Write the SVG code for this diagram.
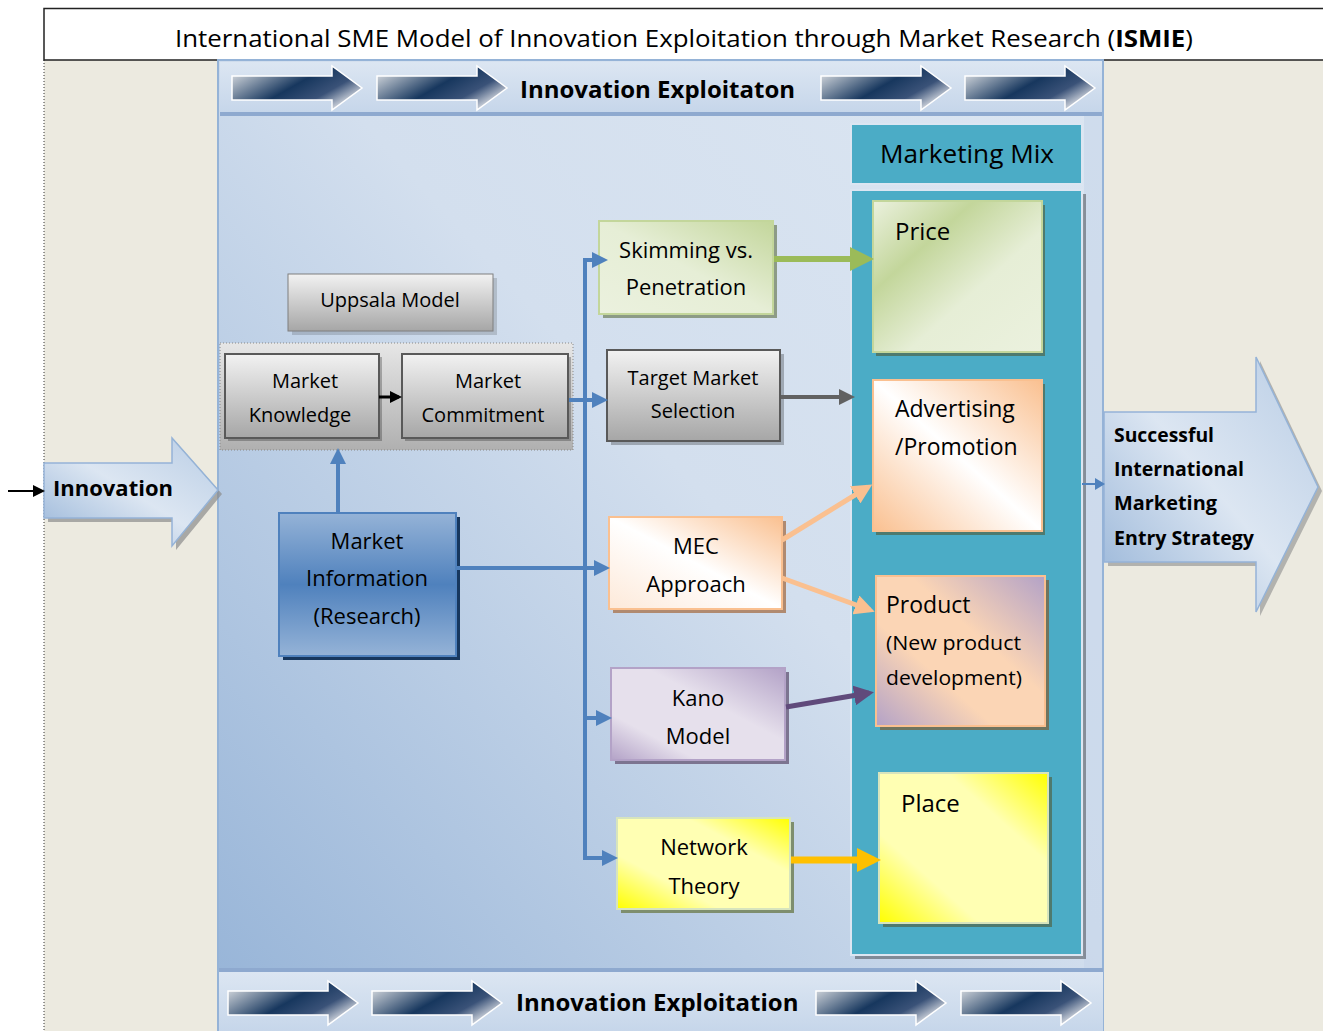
<svg xmlns="http://www.w3.org/2000/svg" width="1323" height="1031" viewBox="0 0 1323 1031">
<defs>
<linearGradient id="gPanel" x1="0" y1="1" x2="1" y2="0">
<stop offset="0" stop-color="#95B3D7"/><stop offset="0.55" stop-color="#D3DFEE"/><stop offset="1" stop-color="#DCE6F2"/>
</linearGradient>
<linearGradient id="gBand" x1="0" y1="0" x2="0" y2="1">
<stop offset="0" stop-color="#DCE6F2"/><stop offset="1" stop-color="#C6D6EA"/>
</linearGradient>
<linearGradient id="gDark" x1="0" y1="0" x2="1" y2="0.6">
<stop offset="0" stop-color="#F2F2F2"/><stop offset="0.55" stop-color="#17375E"/><stop offset="0.8" stop-color="#3A5278"/><stop offset="1" stop-color="#C8CED8"/>
</linearGradient>
<linearGradient id="gBlueArrow" x1="0" y1="1" x2="1" y2="0">
<stop offset="0" stop-color="#95B3D7"/><stop offset="0.5" stop-color="#DCE6F2"/><stop offset="1" stop-color="#B9CDE5"/>
</linearGradient>
<linearGradient id="gGrey" x1="0" y1="0" x2="0" y2="1">
<stop offset="0" stop-color="#F2F2F2"/><stop offset="1" stop-color="#A6A6A6"/>
</linearGradient>
<linearGradient id="gGreyBox" x1="0" y1="0" x2="0" y2="1">
<stop offset="0" stop-color="#E6E6E6"/><stop offset="1" stop-color="#B0B0B0"/>
</linearGradient>
<linearGradient id="gMI" x1="0" y1="0" x2="0" y2="1">
<stop offset="0" stop-color="#95B3D7"/><stop offset="0.5" stop-color="#4F81BD"/><stop offset="1" stop-color="#95B3D7"/>
</linearGradient>
<linearGradient id="gGreen" x1="1" y1="0" x2="0" y2="1">
<stop offset="0" stop-color="#C3D69B"/><stop offset="0.5" stop-color="#E6EED6"/><stop offset="1" stop-color="#EBF1DE"/>
</linearGradient>
<linearGradient id="gGreenBig" x1="0" y1="0" x2="1" y2="1">
<stop offset="0" stop-color="#EBF1DE"/><stop offset="0.3" stop-color="#C3D69B"/><stop offset="0.6" stop-color="#E6EED6"/><stop offset="1" stop-color="#EBF1DE"/>
</linearGradient>
<linearGradient id="gPeach" x1="1" y1="0" x2="0" y2="1">
<stop offset="0" stop-color="#FAC090"/><stop offset="0.5" stop-color="#FFFFFF"/><stop offset="1" stop-color="#FDE9D9"/>
</linearGradient>
<linearGradient id="gPeach2" x1="0" y1="1" x2="1" y2="0">
<stop offset="0" stop-color="#FAC090"/><stop offset="0.5" stop-color="#FFFFFF"/><stop offset="1" stop-color="#FAC090"/>
</linearGradient>
<linearGradient id="gPurple" x1="1" y1="0" x2="0" y2="1">
<stop offset="0" stop-color="#B3A2C7"/><stop offset="0.4" stop-color="#E6E0EC"/><stop offset="0.75" stop-color="#E6E0EC"/><stop offset="1" stop-color="#B3A2C7"/>
</linearGradient>
<linearGradient id="gProd" x1="1" y1="0" x2="0" y2="1">
<stop offset="0" stop-color="#B3A2C7"/><stop offset="0.4" stop-color="#FBD5B5"/><stop offset="0.65" stop-color="#FBD5B5"/><stop offset="1" stop-color="#B3A2C7"/>
</linearGradient>
<linearGradient id="gYellow" x1="1" y1="0" x2="0" y2="1">
<stop offset="0" stop-color="#FFFF00"/><stop offset="0.3" stop-color="#FFFFB3"/><stop offset="0.7" stop-color="#FFFFB3"/><stop offset="1" stop-color="#FFFF00"/>
</linearGradient>
<path id="bandArrow" d="M0,10 L100,10 L100,0 L130,22 L100,44 L100,34 L0,34 Z" fill="url(#gDark)" stroke="#FFFFFF" stroke-width="1.5"/>
<marker id="mBlue" markerWidth="4" markerHeight="4" refX="3" refY="2" orient="auto" markerUnits="strokeWidth"><path d="M0,0 L4,2 L0,4 Z" fill="#4F81BD"/></marker>
<marker id="mBlueS" markerWidth="10" markerHeight="12" refX="8" refY="6" orient="auto" markerUnits="userSpaceOnUse"><path d="M0,0 L10,6 L0,12 Z" fill="#4F81BD"/></marker>
<marker id="mBlack" markerWidth="4" markerHeight="4" refX="3" refY="2" orient="auto" markerUnits="strokeWidth"><path d="M0,0 L4,2 L0,4 Z" fill="#000000"/></marker>
<marker id="mBlackS" markerWidth="12" markerHeight="12" refX="10" refY="6" orient="auto" markerUnits="userSpaceOnUse"><path d="M0,0 L12,6 L0,12 Z" fill="#000000"/></marker>
<marker id="mGreen" markerWidth="4" markerHeight="4" refX="3" refY="2" orient="auto" markerUnits="strokeWidth"><path d="M0,0 L4,2 L0,4 Z" fill="#9BBB59"/></marker>
<marker id="mGreyA" markerWidth="4" markerHeight="4" refX="3" refY="2" orient="auto" markerUnits="strokeWidth"><path d="M0,0 L4,2 L0,4 Z" fill="#616161"/></marker>
<marker id="mPeach" markerWidth="4" markerHeight="4" refX="3" refY="2" orient="auto" markerUnits="strokeWidth"><path d="M0,0 L4,2 L0,4 Z" fill="#FAC090"/></marker>
<marker id="mPurple" markerWidth="4" markerHeight="4" refX="3" refY="2" orient="auto" markerUnits="strokeWidth"><path d="M0,0 L4,2 L0,4 Z" fill="#604A7B"/></marker>
<marker id="mOrange" markerWidth="3.5" markerHeight="3.5" refX="2.5" refY="1.75" orient="auto" markerUnits="strokeWidth"><path d="M0,0 L3.5,1.75 L0,3.5 Z" fill="#FFC000"/></marker>
</defs>
<style>
text{font-family:"Open Sans","Noto Sans","Liberation Sans",sans-serif;fill:#000;}
.t{font-size:22px;text-anchor:middle;}
.ts{font-size:20px;text-anchor:middle;}
.tl{font-size:24px;}
.b{font-weight:bold;}
.shadow{fill:#000;opacity:0.35;}
</style>

<!-- background -->
<rect x="0" y="0" width="1323" height="1031" fill="#FFFFFF"/>
<rect x="44" y="60" width="1279" height="971" fill="#ECEAE0"/>
<line x1="44" y1="60" x2="44" y2="1031" stroke="#333" stroke-width="1" stroke-dasharray="1,2"/>

<!-- title -->
<g id="title">
<rect x="44" y="8.5" width="1290" height="51.5" fill="#FFFFFF" stroke="#222" stroke-width="1.5"/>
<text x="175" y="47" font-size="23" textLength="1018" lengthAdjust="spacingAndGlyphs">International SME Model of Innovation Exploitation through Market Research (<tspan font-weight="bold">ISMIE</tspan>)</text>
</g>

<!-- main panel -->
<g id="panel">
<rect x="218" y="60" width="885" height="971" fill="url(#gPanel)" stroke="#95B3D7" stroke-width="2"/>
<rect x="1084" y="115" width="18" height="855" fill="#C6D6EA" opacity="0.6"/>
</g>

<g id="band-top">
<rect x="220" y="62" width="882" height="50" fill="url(#gBand)"/>
<rect x="220" y="112" width="882" height="4" fill="#8EA9CF"/>
<use href="#bandArrow" x="232" y="66"/>
<use href="#bandArrow" x="377" y="66"/>
<use href="#bandArrow" x="821" y="66"/>
<use href="#bandArrow" x="965" y="66"/>
<text x="520" y="98" font-size="24" class="b">Innovation Exploitaton</text>
</g>

<g id="band-bottom">
<rect x="219" y="968" width="884" height="4" fill="#8EA9CF"/>
<rect x="219" y="972" width="884" height="59" fill="url(#gBand)"/>
<use href="#bandArrow" x="228" y="981"/>
<use href="#bandArrow" x="372" y="981"/>
<use href="#bandArrow" x="816" y="981"/>
<use href="#bandArrow" x="961" y="981"/>
<text x="516" y="1011" font-size="24" class="b">Innovation Exploitation</text>
</g>

<!-- Innovation arrow -->
<g id="innovation">
<path d="M48,467 L176,467 L176,442 L222,494 L176,550 L176,522 L48,522 Z" fill="#8C8C8C" opacity="0.7"/>
<path d="M44,463 L172,463 L172,438 L218,490 L172,546 L172,518 L44,518 Z" fill="url(#gBlueArrow)" stroke="#95B3D7" stroke-width="1.5"/>
<text x="53" y="496" font-size="22" class="b">Innovation</text>
</g>

<!-- Outcome arrow -->
<g id="outcome">
<path d="M1108,416 L1260,416 L1260,361 L1322,491 L1260,616 L1260,566 L1108,566 Z" fill="#8C8C8C" opacity="0.6"/>
<path d="M1104,412 L1256,412 L1256,357 L1318,487 L1256,612 L1256,562 L1104,562 Z" fill="url(#gBlueArrow)" stroke="#95B3D7" stroke-width="1.5"/>
<text x="1114" y="442" font-size="20" class="b" textLength="100" lengthAdjust="spacingAndGlyphs">Successful</text>
<text x="1114" y="476" font-size="20" class="b" textLength="130" lengthAdjust="spacingAndGlyphs">International</text>
<text x="1114" y="510" font-size="20" class="b" textLength="103" lengthAdjust="spacingAndGlyphs">Marketing</text>
<text x="1114" y="545" font-size="20" class="b" textLength="140" lengthAdjust="spacingAndGlyphs">Entry Strategy</text>
</g>

<!-- Marketing mix -->
<g id="marketing-mix-header">
<rect x="851" y="124" width="231" height="60" fill="#4BACC6" stroke="#DCE6F2" stroke-width="2"/>
<text x="967" y="163" font-size="25" text-anchor="middle" textLength="174" lengthAdjust="spacingAndGlyphs">Marketing Mix</text>
</g>
<g id="marketing-mix">
<rect x="855" y="194" width="231" height="765" class="shadow" opacity="0.2"/>
<rect x="851" y="190" width="231" height="765" fill="#4BACC6" stroke="#DCE6F2" stroke-width="2"/>
</g>
<g id="price">
<rect x="876" y="205" width="169" height="151" fill="#4E7A6E"/>
<rect x="873" y="201" width="169" height="151" fill="url(#gGreenBig)" stroke="#C3D69B" stroke-width="2"/>
<text x="895" y="240" class="tl">Price</text>
</g>
<g id="advertising">
<rect x="876" y="384" width="169" height="151" fill="#4E7A6E"/>
<rect x="873" y="380" width="169" height="151" fill="url(#gPeach2)" stroke="#FAC090" stroke-width="2"/>
<text x="895" y="417" font-size="23">Advertising</text>
<text x="895" y="455" font-size="23">/Promotion</text>
</g>
<g id="product">
<rect x="880" y="580" width="169" height="150" fill="#6E7460"/>
<rect x="876" y="576" width="169" height="150" fill="url(#gProd)" stroke="#FAC090" stroke-width="2"/>
<text x="886" y="613" font-size="23">Product</text>
<text x="886" y="650" font-size="20" textLength="135" lengthAdjust="spacingAndGlyphs">(New product</text>
<text x="886" y="685" font-size="20" textLength="136" lengthAdjust="spacingAndGlyphs">development)</text>
</g>
<g id="place">
<rect x="883" y="777" width="169" height="150" fill="#4E7A6E"/>
<rect x="879" y="773" width="169" height="150" fill="url(#gYellow)" stroke="#D7E4BD" stroke-width="2"/>
<text x="901" y="812" class="tl">Place</text>
</g>

<!-- Uppsala -->
<g id="uppsala-model">
<rect x="292" y="278" width="205" height="57" fill="#000" opacity="0.15"/>
<rect x="288" y="274" width="205" height="57" fill="url(#gGrey)" stroke="#7F7F7F" stroke-width="1"/>
<text x="390" y="307" class="ts">Uppsala Model</text>
</g>
<g id="uppsala-group">
<rect x="220" y="343" width="353" height="107" fill="url(#gGreyBox)" stroke="#888" stroke-width="1" stroke-dasharray="1,2"/>
</g>
<g id="market-knowledge">
<rect x="228" y="357" width="154" height="84" fill="#000" opacity="0.25"/>
<rect x="225" y="354" width="154" height="84" fill="url(#gGrey)" stroke="#595959" stroke-width="2"/>
<text x="305" y="388" class="ts">Market</text>
<text x="300" y="422" class="ts">Knowledge</text>
</g>
<g id="market-commitment">
<rect x="405" y="357" width="166" height="84" fill="#000" opacity="0.25"/>
<rect x="402" y="354" width="166" height="84" fill="url(#gGrey)" stroke="#595959" stroke-width="2"/>
<text x="488" y="388" class="ts">Market</text>
<text x="483" y="422" class="ts">Commitment</text>
</g>
<g id="market-information">
<rect x="283" y="517" width="177" height="143" fill="#17375E"/>
<rect x="279" y="513" width="177" height="143" fill="url(#gMI)" stroke="#4F81BD" stroke-width="2"/>
<text x="367" y="549" class="t">Market</text>
<text x="367" y="586" class="t">Information</text>
<text x="367" y="624" class="t">(Research)</text>
</g>

<!-- middle nodes -->
<g id="skimming">
<rect x="603" y="225" width="174" height="93" fill="#6E7E5A" opacity="0.7"/>
<rect x="599" y="221" width="174" height="93" fill="url(#gGreen)" stroke="#C3D69B" stroke-width="2"/>
<text x="686" y="258" class="t">Skimming vs.</text>
<text x="686" y="295" class="t">Penetration</text>
</g>
<g id="target-market">
<rect x="611" y="354" width="173" height="91" fill="#000" opacity="0.25"/>
<rect x="607" y="350" width="173" height="91" fill="url(#gGrey)" stroke="#595959" stroke-width="2"/>
<text x="693" y="385" class="ts">Target Market</text>
<text x="693" y="418" class="ts">Selection</text>
</g>
<g id="mec">
<rect x="613" y="521" width="173" height="92" fill="#B08A70"/>
<rect x="609" y="517" width="173" height="92" fill="url(#gPeach)" stroke="#FAC090" stroke-width="2"/>
<text x="696" y="554" class="t">MEC</text>
<text x="696" y="592" class="t">Approach</text>
</g>
<g id="kano">
<rect x="615" y="672" width="174" height="92" fill="#7C7490"/>
<rect x="611" y="668" width="174" height="92" fill="url(#gPurple)" stroke="#B3A2C7" stroke-width="2"/>
<text x="698" y="706" class="t">Kano</text>
<text x="698" y="744" class="t">Model</text>
</g>
<g id="network">
<rect x="621" y="822" width="173" height="91" fill="#7E8E6E"/>
<rect x="617" y="818" width="173" height="91" fill="url(#gYellow)" stroke="#D7E4BD" stroke-width="2"/>
<text x="704" y="855" class="t">Network</text>
<text x="704" y="894" class="t">Theory</text>
</g>

<!-- connectors -->
<g id="connectors" fill="none">
<line x1="8" y1="491" x2="43" y2="491" stroke="#000" stroke-width="2" marker-end="url(#mBlackS)"/>
<line x1="1082" y1="484" x2="1103" y2="484" stroke="#4F81BD" stroke-width="2" marker-end="url(#mBlueS)"/>
<line x1="379" y1="397" x2="399" y2="397" stroke="#000" stroke-width="3" marker-end="url(#mBlack)"/>
<line x1="338" y1="512" x2="338" y2="452" stroke="#4F81BD" stroke-width="4" marker-end="url(#mBlue)"/>
<line x1="585" y1="260" x2="585" y2="858" stroke="#4F81BD" stroke-width="4"/>
<line x1="583" y1="260" x2="604" y2="260" stroke="#4F81BD" stroke-width="4" marker-end="url(#mBlue)"/>
<line x1="569" y1="400" x2="604" y2="400" stroke="#4F81BD" stroke-width="4" marker-end="url(#mBlue)"/>
<line x1="457" y1="568" x2="606" y2="568" stroke="#4F81BD" stroke-width="4" marker-end="url(#mBlue)"/>
<line x1="583" y1="718" x2="608" y2="718" stroke="#4F81BD" stroke-width="4" marker-end="url(#mBlue)"/>
<line x1="583" y1="858" x2="614" y2="858" stroke="#4F81BD" stroke-width="4" marker-end="url(#mBlue)"/>
<line x1="774" y1="259" x2="868" y2="259" stroke="#9BBB59" stroke-width="6" marker-end="url(#mGreen)"/>
<line x1="781" y1="397" x2="851" y2="397" stroke="#616161" stroke-width="4" marker-end="url(#mGreyA)"/>
<line x1="782" y1="540" x2="868" y2="487" stroke="#FAC090" stroke-width="5" marker-end="url(#mPeach)"/>
<line x1="782" y1="578" x2="870" y2="610" stroke="#FAC090" stroke-width="5" marker-end="url(#mPeach)"/>
<line x1="786" y1="707" x2="869" y2="693" stroke="#604A7B" stroke-width="5" marker-end="url(#mPurple)"/>
<line x1="791" y1="860" x2="874" y2="860" stroke="#FFC000" stroke-width="7" marker-end="url(#mOrange)"/>
</g>
</svg>
